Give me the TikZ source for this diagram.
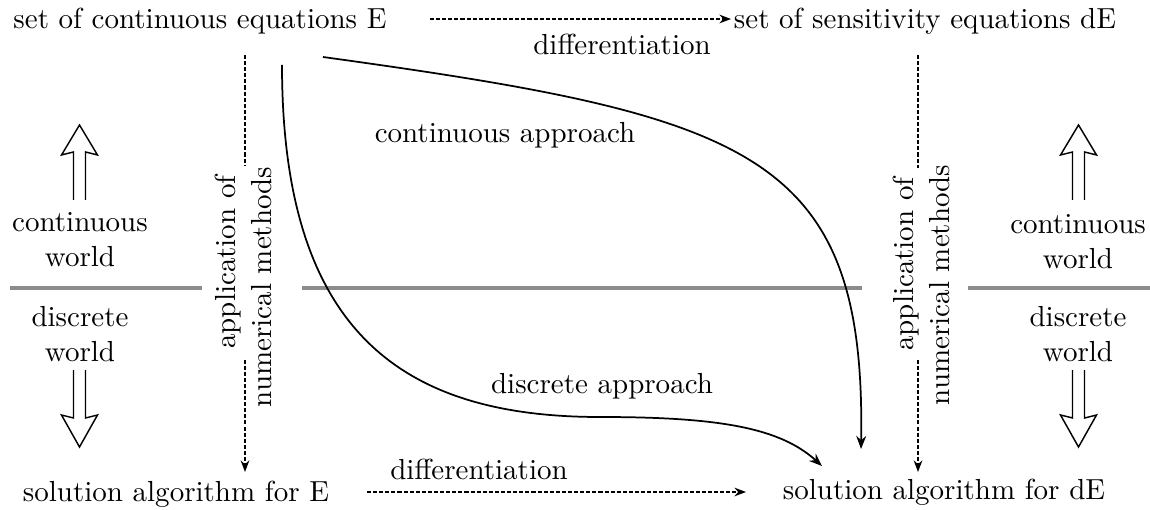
\documentclass[tikz,border=0pt]{standalone}
\usetikzlibrary{arrows.meta}
\begin{document}
\begin{tikzpicture}[x=0.3448pt,y=-0.3448pt,
  lbl/.style={inner sep=0pt, align=center},
  dasharrow/.style={line width=0.45pt, dash pattern=on 1.4pt off 0.7pt, -{Stealth[length=4pt,width=3pt]}},
  curvearrow/.style={line width=0.6pt, -{Stealth[length=4.5pt,width=3.4pt]}},
  sep/.style={line width=1.4pt, draw=black!45},
  hollow/.style={line width=0.5pt, line join=miter},
  rotlbl/.style={rotate=90, inner sep=3.3pt}]
\useasboundingbox (0,0) rectangle (1150,510);

% main texts
\node[lbl] (topE)  at (200,21)  {set of continuous equations E};
\node[lbl] (topdE) at (925,21)  {set of sensitivity equations dE};
\node[lbl] (botE)  at (176,494) {solution algorithm for E};
\node[lbl] (botdE) at (944,492) {solution algorithm for dE};

% coordinates for dashed connectors
\coordinate (ta) at (430,19);
\coordinate (tb) at (731,19);
\coordinate (ba) at (367,492);
\coordinate (bb) at (746,492);
\coordinate (la) at (245,55);
\coordinate (lb) at (245,472);
\coordinate (ra) at (918,55);
\coordinate (rb) at (918,472);

% horizontal differentiation arrows
\draw[dasharrow] (ta) -- (tb);
\node[lbl] (dtop) at (622,44) {differentiation};
\draw[dasharrow] (ba) -- (bb);
\node[lbl] (dbot) at (479,469) {differentiation};

% vertical numerical arrows
\draw[dasharrow] (la) -- (lb);
\node[rotlbl, fill=white] (lapp) at (228,262) {application of};
\node[rotlbl] (lnum) at (262,287) {numerical methods};
\draw[dasharrow] (ra) -- (rb);
\node[rotlbl, fill=white] (rapp) at (906,264) {application of};
\node[rotlbl] (rnum) at (940,285) {numerical methods};

% separators
\draw[sep] (10,288) -- (202,288);
\draw[sep] (302,288) -- (862,288);
\draw[sep] (968,288) -- (1150,288);

% world labels
\node[lbl] (lcw) at (80,240) {continuous\\world};
\node[lbl] (ldw) at (80,334) {discrete\\world};
\node[lbl] (rcw) at (1078,242) {continuous\\world};
\node[lbl] (rdw) at (1078,334) {discrete\\world};

% hollow arrows
\foreach \cx in {79.5,1078.5}{
  \draw[hollow] (\cx-6,200) -- (\cx-6,152) -- (\cx-18,155) -- (\cx,125) -- (\cx+18,155) -- (\cx+6,152) -- (\cx+6,200);
  \draw[hollow] (\cx-6,370) -- (\cx-6,418) -- (\cx-18,415) -- (\cx,447) -- (\cx+18,415) -- (\cx+6,418) -- (\cx+6,370);
}

% approaches
\coordinate (cs) at (323,57);
\coordinate (ce) at (861,449);
\coordinate (ds) at (282,65);
\coordinate (dm) at (600,417);
\coordinate (de) at (822,466);
\draw[curvearrow] (cs) .. controls (750,116) and (866,152) .. (ce);
\draw[curvearrow] (ds) .. controls (282,330) and (400,417) .. (dm) .. controls (720,417) and (780,428) .. (de);
\node[lbl] (capp) at (505,135) {continuous approach};
\node[lbl] (dapp) at (602,386) {discrete approach};
\end{tikzpicture}
\end{document}
